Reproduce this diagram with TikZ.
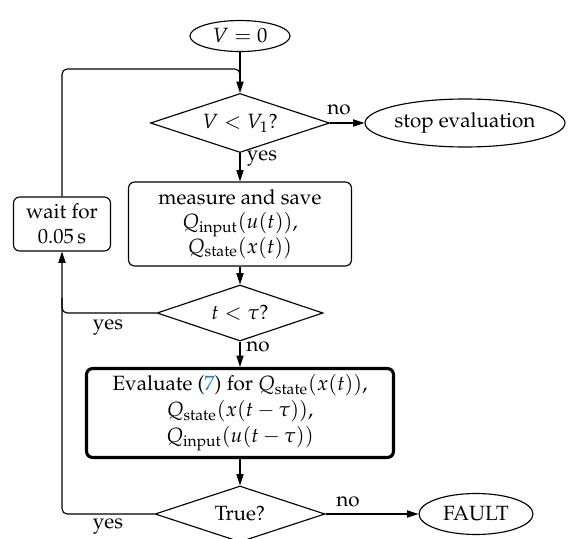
\documentclass[tikz,border=0pt]{standalone}
\usepackage[T1]{fontenc}
\usepackage{mathpazo}
\usepackage{amsmath}
\usetikzlibrary{shapes.geometric,arrows.meta,calc}
\definecolor{refblue}{RGB}{40,130,200}
\newcommand\pxu{0.485pt}
\begin{document}
\begin{tikzpicture}[x=0.485pt,y=-0.485pt,
  line width=0.55pt,
  >={Triangle[length=5.5pt,width=3.5pt]},
  term/.style={ellipse,draw,inner sep=0pt},
  dec/.style={diamond,draw,inner sep=0pt,aspect=3},
  proc/.style={rectangle,draw,rounded corners=3pt,align=center,inner sep=0pt},
  lbl/.style={inner sep=0pt}]
\useasboundingbox (0,0) rectangle (576,539);

\node[term,minimum width=100*\pxu,minimum height=31*\pxu] (v0) at (240,36) {$V=0$};
\node[dec,minimum width=179*\pxu,minimum height=59*\pxu] (d1) at (240,123) {$V<V_1$?};
\node[term,minimum width=200*\pxu,minimum height=48*\pxu] (stop) at (465,123) {stop evaluation};
\node[proc,minimum width=223*\pxu,minimum height=84*\pxu] (meas) at (240,224)
  {measure and save\\$Q_{\text{input}}(u(t))$,\\$Q_{\text{state}}(x(t))$};
\node[proc,minimum width=97*\pxu,minimum height=54*\pxu] (wait) at (62,224) {wait for\\0.05\,s};
\node[dec,minimum width=166*\pxu,minimum height=56*\pxu] (d2) at (240,313) {$t<\tau$?};
\node[proc,line width=1.5pt,minimum width=307*\pxu,minimum height=89*\pxu] (eval) at (240,413)
  {Evaluate (\textcolor{refblue}{7}) for $Q_{\text{state}}(x(t))$,\\[0.6pt]$Q_{\text{state}}(x(t-\tau))$,\\[0.6pt]$Q_{\text{input}}(u(t-\tau))$};
\node[dec,minimum width=170*\pxu,minimum height=56*\pxu] (d3) at (240,514) {True?};
\node[term,minimum width=114*\pxu,minimum height=41*\pxu] (fault) at (476,514) {FAULT};

\coordinate (j1) at (240,69);
\draw[->] (v0) -- (d1);
\draw[rounded corners=2.5pt] (wait.north) |- (j1) -- ($(j1)+(0,10)$);
\draw[->] (d1) -- (stop);
\node[lbl] (lno1) at (339,110) {no};
\draw[->] (d1) -- (meas);
\node[lbl] (lyes1) at (262,158) {yes};
\draw[->] (meas) -- (d2);
\draw[->,rounded corners=2.5pt] (d2.west) -| (wait.south);
\node[lbl] (lyes2) at (108,327) {yes};
\draw[->] (d2) -- (eval);
\node[lbl] (lno2) at (258,347) {no};
\draw[->] (eval) -- (d3);
\draw[->] (d3) -- (fault);
\node[lbl] (lno3) at (348,502) {no};
\draw[rounded corners=2.5pt] (d3.west) -| ($(d2.west -| wait.south)+(0,-15)$);
\node[lbl] (lyes3) at (108,526) {yes};
\end{tikzpicture}
\end{document}
